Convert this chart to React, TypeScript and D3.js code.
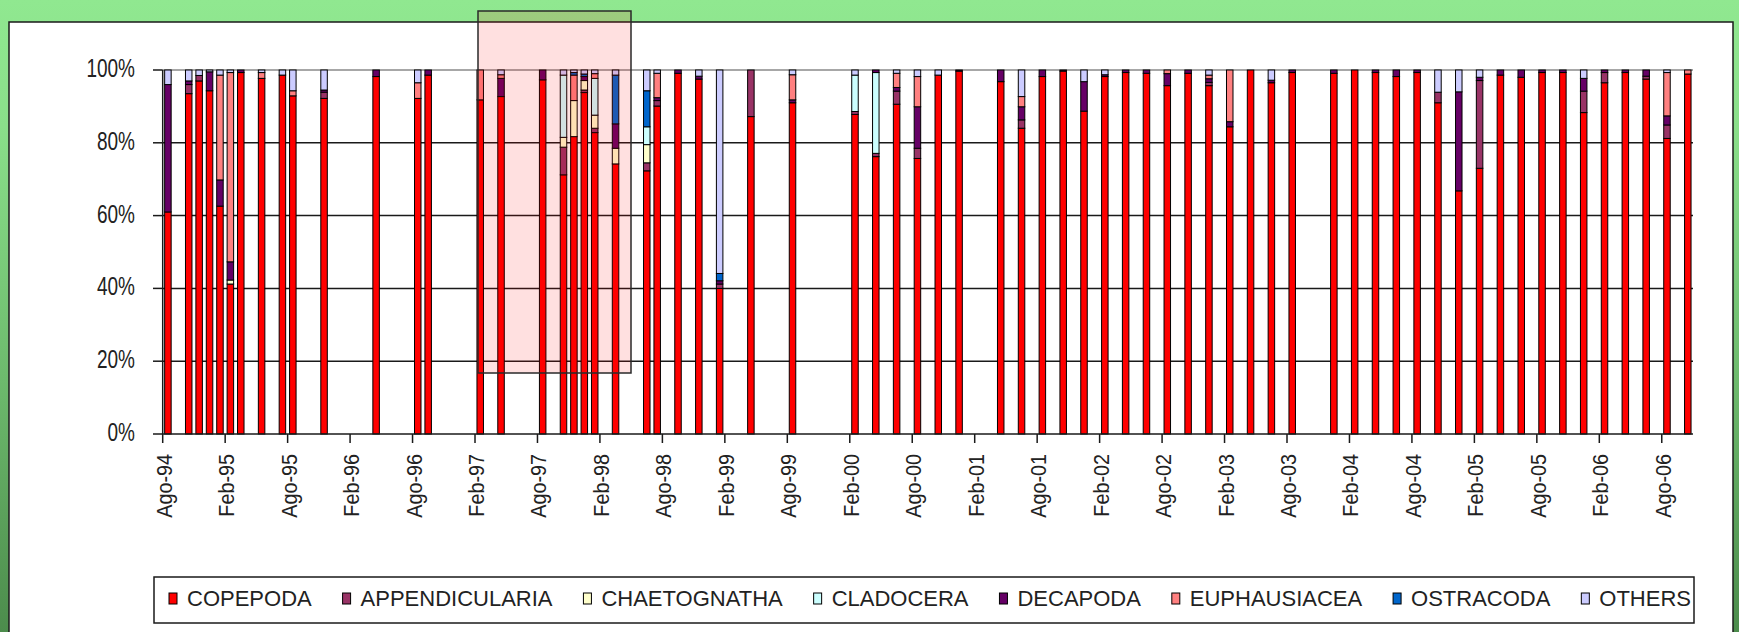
import React, { useMemo } from "react";
import * as d3 from "d3";

// ---------- DATA ----------
const sampleMonths = [
  "1994-08", "1994-10", "1994-11", "1994-12", "1995-01", "1995-02", "1995-03", "1995-05", "1995-07", "1995-08",
  "1995-11", "1996-04", "1996-08", "1996-09", "1997-02", "1997-04", "1997-08", "1997-10", "1997-11", "1997-12",
  "1998-01", "1998-03", "1998-06", "1998-07", "1998-09", "1998-11", "1999-01", "1999-04", "1999-08", "2000-02",
  "2000-04", "2000-06", "2000-08", "2000-10", "2000-12", "2001-04", "2001-06", "2001-08", "2001-10", "2001-12",
  "2002-02", "2002-04", "2002-06", "2002-08", "2002-10", "2002-12", "2003-02", "2003-04", "2003-06", "2003-08",
  "2003-12", "2004-02", "2004-04", "2004-06", "2004-08", "2004-10", "2004-12", "2005-02", "2005-04", "2005-06",
  "2005-08", "2005-10", "2005-12", "2006-02", "2006-04", "2006-06", "2006-08", "2006-10",
];

const copepoda = [
  61, 93.5, 97, 94.3, 62.6, 41.2, 99.3, 97.7, 98.6, 92.9,
  92.2, 98.2, 92.2, 98.6, 91.8, 92.7, 97.3, 71.2, 81.7, 93.8,
  82.8, 74.2, 72.3, 90.1, 99.1, 97.5, 40, 87.2, 91, 87.8,
  76.2, 90.6, 75.7, 98.6, 99.7, 96.8, 84, 98.2, 99.7, 88.7,
  98.2, 99.3, 99.1, 95.7, 99.1, 95.7, 84.4, 100, 96.5, 99.3,
  99.1, 100, 99.3, 98.2, 99.3, 91, 66.8, 73, 98.6, 98,
  99.3, 99.3, 88.3, 96.5, 99.3, 97.5, 81.2, 98.9,
];
const appendicularia = [
  0, 2.5, 1.5, 0, 0, 0, 0, 0, 0, 0,
  1.7, 0, 0, 0, 0, 0, 0, 7.6, 0, 0.7,
  1.2, 0, 2.2, 1.5, 0, 0, 1.2, 12.8, 0, 0.8,
  0.9, 3.6, 2.8, 0, 0, 0, 2.3, 0, 0, 0,
  0, 0, 0, 0, 0, 0.9, 0, 0, 0, 0,
  0, 0, 0, 0, 0, 2.9, 0, 24.1, 0, 0,
  0, 0, 5.9, 2.8, 0, 0.8, 3.7, 0,
];
const chaetognatha = [
  0, 0, 0, 0, 0, 1.1, 0, 0, 0, 0,
  0, 0, 0, 0, 0, 0, 0, 2.7, 9.9, 2.6,
  3.6, 4.3, 5, 0, 0, 0, 0, 0, 0, 0,
  0, 0, 0, 0, 0, 0, 0, 0, 0, 0,
  0, 0, 0, 0, 0, 0, 0, 0, 0, 0,
  0, 0, 0, 0, 0, 0, 0, 0, 0, 0,
  0, 0, 0, 0, 0, 0, 0, 0,
];
const cladocera = [
  0, 0, 0, 0, 0, 0, 0, 0, 0, 0,
  0, 0, 0, 0, 0, 0, 0, 17.1, 0, 0,
  10.1, 0, 4.9, 0, 0, 0, 0, 0, 0, 10,
  22.2, 0, 0, 0, 0, 0, 0, 0, 0, 0,
  0, 0, 0, 0, 0, 0, 0, 0, 0, 0,
  0, 0, 0, 0, 0, 0, 0, 0, 0, 0,
  0, 0, 0, 0, 0, 0, 0, 0,
];
const decapoda = [
  35, 1, 0, 5.2, 7.2, 5, 0.7, 0, 0, 0,
  0.6, 1.8, 0, 1.4, 0, 5, 2.7, 0, 0, 1.1,
  0, 6.7, 0, 0.8, 0.9, 0.8, 0.9, 0, 0.8, 0,
  0.7, 1, 11.4, 0, 0.3, 3.2, 3.6, 1.8, 0.3, 8.1,
  0.5, 0.7, 0.9, 3.3, 0.9, 1, 1.4, 0, 0.7, 0.7,
  0.9, 0, 0.7, 1.8, 0.7, 0, 27.2, 0.9, 1.4, 2,
  0.7, 0.7, 3.5, 0.7, 0.7, 1.7, 2.5, 0,
];
const euphausiacea = [
  0, 0, 0, 0, 28.8, 52, 0, 1.6, 0, 1.4,
  0, 0, 4.3, 0, 8.2, 1, 0, 0, 7, 0,
  1.3, 0, 0, 6.7, 0, 0, 0, 0, 6.9, 0,
  0, 3.9, 8.3, 0, 0, 0, 2.8, 0, 0, 0,
  0, 0, 0, 1, 0, 1, 14.2, 0, 0, 0,
  0, 0, 0, 0, 0, 0, 0, 0, 0, 0,
  0, 0, 0, 0, 0, 0, 11.9, 1.1,
];
const ostracoda = [
  0, 0, 0, 0, 0, 0, 0, 0, 0, 0,
  0, 0, 0, 0, 0, 0, 0, 0, 0.7, 0.7,
  0, 13.4, 9.9, 0, 0, 0, 2, 0, 0, 0,
  0, 0, 0, 0, 0, 0, 0, 0, 0, 0,
  0, 0, 0, 0, 0, 0, 0, 0, 0, 0,
  0, 0, 0, 0, 0, 0, 0, 0, 0, 0,
  0, 0, 0, 0, 0, 0, 0, 0,
];
const others = [
  4, 3, 1.5, 0.5, 1.4, 0.7, 0, 0.7, 1.4, 5.7,
  5.5, 0, 3.5, 0, 0, 1.3, 0, 1.4, 0.7, 1.1,
  1, 1.4, 5.7, 0.9, 0, 1.7, 55.9, 0, 1.3, 1.4,
  0, 0.9, 1.8, 1.4, 0, 0, 7.3, 0, 0, 3.2,
  1.3, 0, 0, 0, 0, 1.4, 0, 0, 2.8, 0,
  0, 0, 0, 0, 0, 6.1, 6, 2, 0, 0,
  0, 0, 2.3, 0, 0, 0, 0.7, 0,
];

const seriesNames = [
  "COPEPODA", "APPENDICULARIA", "CHAETOGNATHA", "CLADOCERA",
  "DECAPODA", "EUPHAUSIACEA", "OSTRACODA", "OTHERS",
];
const seriesValues = [copepoda, appendicularia, chaetognatha, cladocera, decapoda, euphausiacea, ostracoda, others];
const seriesColors = ["#FF0000", "#993366", "#FFFFCC", "#CCFFFF", "#660066", "#FF8080", "#0066CC", "#CCCCFF"];

const yTickValues = [0, 0.2, 0.4, 0.6, 0.8, 1];
const xTickLabels = [
  "Ago-94", "Feb-95", "Ago-95", "Feb-96", "Ago-96", "Feb-97", "Ago-97", "Feb-98", "Ago-98",
  "Feb-99", "Ago-99", "Feb-00", "Ago-00", "Feb-01", "Ago-01", "Feb-02", "Ago-02", "Feb-03",
  "Ago-03", "Feb-04", "Ago-04", "Feb-05", "Ago-05", "Feb-06", "Ago-06",
];
const axisFirstMonth = "1994-08";
const axisLastMonth = "2006-10";

// ---------- LAYOUT ----------
const W = 1739;
const H = 632;
const plotLeft = 162.7;
const plotRight = 1693;
const plotTop = 70;
const plotBottom = 434;
const barW = 6.5;
const FONT = "'Liberation Sans', Arial, Helvetica, sans-serif";
const monthAbbr: Record<string, number> = {
  Ene: 1, Feb: 2, Mar: 3, Abr: 4, May: 5, Jun: 6, Jul: 7, Ago: 8, Sep: 9, Oct: 10, Nov: 11, Dic: 12,
};

function monthIndex(s: string): number {
  const [y, m] = s.split("-").map(Number);
  const [y0, m0] = axisFirstMonth.split("-").map(Number);
  return (y - y0) * 12 + (m - m0);
}
function labelMonthIndex(lbl: string): number {
  const [mon, yy] = lbl.split("-");
  const yr = Number(yy) >= 50 ? 1900 + Number(yy) : 2000 + Number(yy);
  const m = monthAbbr[mon];
  return monthIndex(`${yr}-${String(m).padStart(2, "0")}`);
}

export default function App() {
  const nMonths = monthIndex(axisLastMonth) + 1;
  const x = d3.scaleLinear().domain([0, nMonths]).range([plotLeft, plotRight]);
  const step = x(1) - x(0);
  const y = d3.scaleLinear().domain([0, 1]).range([plotBottom, plotTop]);

  const rows = sampleMonths.map((mo, i) => {
    const r: Record<string, any> = { month: mo };
    seriesNames.forEach((n, k) => (r[n] = seriesValues[k][i]));
    return r;
  });
  const stacked = d3.stack<any>().keys(seriesNames).offset(d3.stackOffsetExpand)(rows);

  const legendLayout = useMemo(() => {
    const canvas = document.createElement("canvas");
    const ctx = canvas.getContext("2d")!;
    ctx.font = `22px ${FONT}`;
    const widths = seriesNames.map((n) => ctx.measureText(n).width);
    const start = 169;
    const end = 1691;
    const textOff = 18;
    const total = widths.reduce((a, b) => a + b, 0) + textOff * seriesNames.length;
    const gap = (end - start - total) / (seriesNames.length - 1);
    let cx = start;
    return widths.map((w) => {
      const item = { x: cx, tx: cx + textOff };
      cx += textOff + w + gap;
      return item;
    });
  }, []);

  return (
    <svg
      width={W}
      height={H}
      style={{ position: "fixed", left: 0, top: 0, display: "block" }}
      fontFamily={FONT}
    >
      <defs>
        <linearGradient id="bg" x1="0" y1="0" x2="0" y2="1">
          <stop offset="0" stopColor="#90E890" />
          <stop offset="0.2" stopColor="#8ADF8A" />
          <stop offset="0.6" stopColor="#6DBA6D" />
          <stop offset="1" stopColor="#4C8C4C" />
        </linearGradient>
      </defs>
      <rect x={0} y={0} width={W} height={H} fill="url(#bg)" />
      <rect x={9} y={22} width={1724} height={700} fill="#FFFFFF" stroke="#1A1A1A" strokeWidth={1.5} />

      {/* gridlines and y labels */}
      {yTickValues.map((v) => (
        <g key={`g${v}`}>
          {v > 0 && (
            <line
              x1={plotLeft}
              x2={plotRight}
              y1={y(v)}
              y2={y(v)}
              stroke={v === 1 ? "#8A8A8A" : "#1A1A1A"}
              strokeWidth={1.5}
            />
          )}
          <line x1={153} x2={plotLeft} y1={y(v)} y2={y(v)} stroke="#1A1A1A" strokeWidth={1.5} />
          <text
            transform={`translate(135,${y(v) + 7}) scale(0.76,1)`}
            textAnchor="end"
            fontSize={25}
            fill="#222"
          >
            {`${Math.round(v * 100)}%`}
          </text>
        </g>
      ))}

      {/* bars */}
      {stacked.map((layer, k) => (
        <g key={seriesNames[k]} fill={seriesColors[k]} stroke="#000" strokeWidth={1}>
          {layer.map((d, i) => {
            const h = y(d[0]) - y(d[1]);
            if (!(h > 0.01)) return null;
            const mi = monthIndex(sampleMonths[i]);
            return (
              <rect
                key={i}
                x={x(mi) + (step - barW) / 2}
                y={y(d[1])}
                width={barW}
                height={h}
              />
            );
          })}
        </g>
      ))}

      {/* axes */}
      <line x1={plotLeft} x2={plotLeft} y1={plotTop} y2={plotBottom} stroke="#1A1A1A" strokeWidth={1.5} />
      <line x1={plotLeft} x2={plotRight} y1={plotBottom} y2={plotBottom} stroke="#1A1A1A" strokeWidth={1.5} />
      {xTickLabels.map((lbl) => {
        const tx = x(labelMonthIndex(lbl));
        return (
          <g key={lbl}>
            <line x1={tx} x2={tx} y1={plotBottom} y2={plotBottom + 9} stroke="#1A1A1A" strokeWidth={1.5} />
            <text
              transform={`translate(${tx + 9},454) rotate(-90) scale(0.9,1)`}
              textAnchor="end"
              fontSize={22}
              fill="#222"
            >
              {lbl}
            </text>
          </g>
        );
      })}

      {/* legend */}
      <rect x={154} y={577} width={1540} height={46} fill="#FFFFFF" stroke="#1A1A1A" strokeWidth={1.5} />
      {seriesNames.map((n, k) => (
        <g key={`lg${n}`}>
          <rect
            x={legendLayout[k].x}
            y={593}
            width={8}
            height={11}
            fill={seriesColors[k]}
            stroke="#000"
            strokeWidth={1}
          />
          <text x={legendLayout[k].tx} y={606} fontSize={22} fill="#222">
            {n}
          </text>
        </g>
      ))}

      {/* highlight box */}
      <rect
        x={478}
        y={11}
        width={153}
        height={362}
        fill="rgba(255,0,0,0.12)"
        stroke="#2A2A2A"
        strokeWidth={1.5}
      />
    </svg>
  );
}
